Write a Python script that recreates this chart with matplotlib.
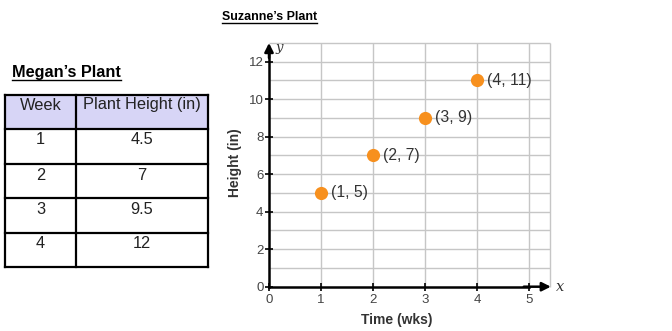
import matplotlib
matplotlib.use("Agg")
import matplotlib.pyplot as plt
from matplotlib.patches import Rectangle

plt.rcParams['font.family'] = ['Liberation Sans', 'DejaVu Sans']

# ---- data ----
table_title = "Megan\u2019s Plant"
table_headers = ["Week", "Plant Height (in)"]
megan_weeks = [1, 2, 3, 4]
megan_heights = [4.5, 7, 9.5, 12]

chart_title = "Suzanne\u2019s Plant"
suz_time = [1, 2, 3, 4]
suz_height = [5, 7, 9, 11]
x_ticks = [0, 1, 2, 3, 4, 5]
y_ticks = [0, 2, 4, 6, 8, 10, 12]
x_label = "Time (wks)"
y_label = "Height (in)"

W, H = 672, 331
fig = plt.figure(figsize=(W / 100, H / 100), dpi=100)

# background axes in pixel coordinates
bg = fig.add_axes([0, 0, 1, 1])
bg.set_xlim(0, W)
bg.set_ylim(H, 0)
bg.axis('off')

txt_col = '#222222'

# ---- Megan's table ----
tx0, tx1, tcol = 5, 208, 76
row_edges = [95, 129, 164, 198, 233, 267]
bg.add_patch(Rectangle((tx0, row_edges[0]), tx1 - tx0, row_edges[1] - row_edges[0],
                       facecolor='#D7D5F6', edgecolor='none', zorder=1))
lw = 1.6
for y in row_edges:
    bg.plot([tx0, tx1], [y, y], color='black', lw=lw, zorder=2, solid_capstyle='projecting')
for x in (tx0, tcol, tx1):
    bg.plot([x, x], [row_edges[0], row_edges[-1]], color='black', lw=lw, zorder=2,
            solid_capstyle='projecting')
cx_week = (tx0 + tcol) / 2
cx_h = (tcol + tx1) / 2
fs_tab = 11.8
bg.text(cx_week, row_edges[0] + 10, table_headers[0], ha='center', va='center',
        fontsize=fs_tab, color=txt_col)
bg.text(cx_h, row_edges[0] + 10, table_headers[1], ha='center', va='center',
        fontsize=fs_tab, color=txt_col)
for i, (wk, ht) in enumerate(zip(megan_weeks, megan_heights)):
    top = row_edges[i + 1]
    bg.text(cx_week, top + 11, f"{wk:g}", ha='center', va='center', fontsize=fs_tab, color=txt_col)
    bg.text(cx_h, top + 11, f"{ht:g}", ha='center', va='center', fontsize=fs_tab, color=txt_col)

# titles with underline
renderer = fig.canvas.get_renderer()


def underlined(x, y, s, fs, gap):
    t = bg.text(x, y, s, ha='left', va='center', fontsize=fs, fontweight='bold', color='black')
    bb = t.get_window_extent(renderer=renderer)
    wpx = bb.width
    bg.plot([x, x + wpx], [y + gap, y + gap], color='black', lw=1.0)


underlined(12, 72, table_title, 11.7, 8)
underlined(222, 17, chart_title, 8.9, 6)

# ---- Suzanne's chart ----
xmin, xmax = -0.05, 5.65
ymin, ymax = -0.1, 13.3
px_x = 52.0
px_y = 18.75
x0_px = 269
y0_px = 286.7
left = (x0_px + xmin * px_x) / W
width = (xmax - xmin) * px_x / W
bottom = (H - y0_px + ymin * px_y) / H
height = (ymax - ymin) * px_y / H
ax = fig.add_axes([left, bottom, width, height])
ax.set_xlim(xmin, xmax)
ax.set_ylim(ymin, ymax)
ax.patch.set_alpha(0)

gx_max, gy_max = 5.4, 13
grid_col = '#C6C6C6'
ax.vlines([1, 2, 3, 4, 5, gx_max], 0, gy_max, colors=grid_col, lw=1.0, zorder=1)
ax.hlines(list(range(1, gy_max + 1)), 0, gx_max, colors=grid_col, lw=1.0, zorder=1)

for s in ('top', 'right'):
    ax.spines[s].set_visible(False)
ax.spines['left'].set_position(('data', 0))
ax.spines['bottom'].set_position(('data', 0))
ax.spines['left'].set_bounds(0, 12.5)
ax.spines['bottom'].set_bounds(0, 5.0)
ax.spines['left'].set_linewidth(1.8)
ax.spines['bottom'].set_linewidth(1.8)
ax.spines['left'].set_zorder(3)
ax.spines['bottom'].set_zorder(3)

ax.annotate('', xy=(0, 13.0), xytext=(0, 12.2),
            arrowprops=dict(arrowstyle='-|>', color='black', lw=1.8, mutation_scale=13,
                            shrinkA=0, shrinkB=0), zorder=4)
ax.annotate('', xy=(gx_max + 0.02, 0), xytext=(4.9, 0),
            arrowprops=dict(arrowstyle='-|>', color='black', lw=1.8, mutation_scale=13,
                            shrinkA=0, shrinkB=0), zorder=4)

ax.set_xticks(x_ticks)
ax.set_yticks(y_ticks)
ax.set_xticklabels([str(v) for v in x_ticks])
ax.set_yticklabels([str(v) for v in y_ticks])
ax.tick_params(direction='inout', length=6, width=1.2, color='black',
               labelsize=9.5, labelcolor='#444444', pad=1)
ax.tick_params(axis='x', pad=2)

ax.text(gx_max + 0.12, 0, 'x', fontsize=10.5, fontstyle='italic', family='DejaVu Serif',
        ha='left', va='center', color='#333333')
ax.text(0.12, 12.75, 'y', fontsize=9.5, fontstyle='italic', family='DejaVu Serif',
        ha='left', va='center', color='#333333')

ax.text((397 - x0_px) / px_x, -0.125, x_label, transform=ax.get_xaxis_transform(),
        ha='center', va='center', fontsize=10, fontweight='bold', color='#333333')
ax.set_ylabel(y_label, fontsize=10, fontweight='bold', color='#333333', labelpad=5)

ax.plot(suz_time, suz_height, 'o', color='#F7901E', markersize=9.5, zorder=5,
        markeredgewidth=0)
for x, y in zip(suz_time, suz_height):
    ax.annotate(f"({x}, {y})", (x, y), xytext=(7.5, 0), textcoords='offset points',
                ha='left', va='center', fontsize=11.3, color='#333333', zorder=6)

fig.savefig('out.png', dpi=100)
